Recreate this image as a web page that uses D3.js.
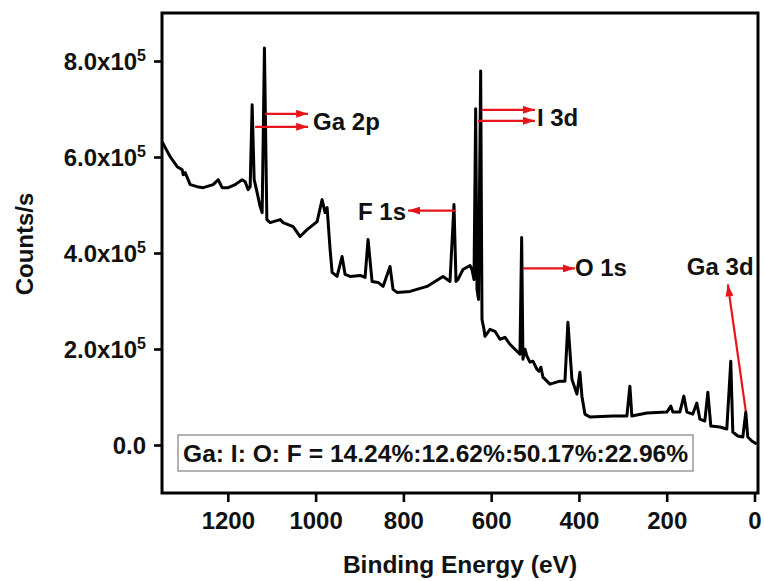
<!DOCTYPE html>
<html>
<head>
<meta charset="utf-8">
<script src="https://cdn.jsdelivr.net/npm/d3@7"></script>
<style>
  html, body { margin: 0; padding: 0; background: #fff; }
  svg text { font-family: "Liberation Sans", Arial, sans-serif; font-weight: bold; fill: #111; }
</style>
</head>
<body>
<svg id="chart" width="764" height="581"></svg>
<script>
// XPS survey spectrum: binding energy (eV) and intensity (counts/s, in thousands)
const bindingEnergy = [
  1350, 1331.3, 1315.4, 1304.0, 1301.7, 1297.2, 1285.8, 1269.8, 1256.2, 1233.4,
  1222.0, 1212.9, 1199.2, 1183.3, 1167.4, 1160.5, 1153.7, 1149.1, 1144.6, 1140.0,
  1133.2, 1126.4, 1121.8, 1116.6, 1111.1, 1103.6, 1080.8, 1074.0, 1051.2, 1035.3,
  1019.4, 996.6, 985.2, 978.4, 973.8, 967.0, 962.4, 951.1, 939.7, 932.8,
  921.5, 898.7, 887.3, 880.5, 871.4, 857.7, 846.3, 830.4, 823.6, 814.4,
  784.8, 746.1, 709.7, 693.8, 684.7, 680.1, 675.6, 664.2, 648.2, 643.7,
  639.1, 635.3, 632.3, 628.9, 623.9, 620.9, 616.4, 614.1, 602.7, 591.3,
  579.9, 568.5, 557.2, 545.8, 538.9, 534.4, 530.5, 527.6, 523.0, 518.4,
  511.6, 504.8, 495.7, 491.1, 486.6, 482.0, 466.1, 443.3, 431.9, 425.1,
  416.0, 404.6, 397.8, 393.2, 386.4, 375.0, 322.6, 290.8, 283.9, 279.4,
  245.2, 199.7, 190.6, 186.0, 170.1, 161.0, 154.1, 140.5, 131.4, 124.5,
  113.2, 106.3, 99.5, 79.0, 63.1, 54.0, 49.4, 38.0, 26.6, 19.8,
  15.3, 6.1, -5.2
];
const countsK = [
  632, 600.5, 579.8, 573.5, 563.1, 567.3, 542.4, 538.2, 536.1, 542.4,
  552.7, 536.1, 536.1, 542.4, 552.7, 548.6, 532.0, 538.2, 708.6, 552.7,
  525.7, 496.6, 484.2, 827.0, 469.6, 463.4, 469.6, 463.4, 455.1, 434.3,
  448.8, 465.5, 511.2, 484.2, 494.6, 407.3, 359.5, 351.2, 392.7, 355.3,
  351.2, 353.3, 349.1, 428.1, 340.8, 338.7, 330.4, 372.0, 324.2, 317.9,
  320.0, 330.4, 351.2, 340.8, 500.8, 340.8, 344.9, 365.7, 374.0, 365.7,
  344.9, 700.3, 324.2, 303.4, 779.3, 261.8, 241.0, 226.5, 241.0, 236.9,
  220.3, 224.4, 209.9, 199.5, 193.3, 189.1, 432.2, 178.7, 199.5, 184.9,
  172.5, 174.6, 157.9, 153.8, 162.1, 141.3, 126.8, 133.0, 133.0, 255.6,
  137.1, 106.0, 151.7, 101.8, 64.4, 58.2, 60.3, 60.3, 122.6, 60.3,
  66.5, 68.6, 81.0, 68.6, 68.6, 101.8, 68.6, 64.4, 87.3, 54.0,
  49.9, 110.1, 39.5, 37.4, 33.2, 174.6, 27.0, 18.7, 16.6, 68.6,
  16.6, 8.3, 2.1
];

// Axis ticks
const xMajorTicks = [1200, 1000, 800, 600, 400, 200, 0];
const xMinorTicks = [1300, 1100, 900, 700, 500, 300, 100];
const yMajorTicks = [0, 2e5, 4e5, 6e5, 8e5];
const yMinorTicks = [1e5, 3e5, 5e5, 7e5];

// Peak annotations: label, arrow start (BE, counts k), arrow end (BE, counts k)
const peakArrows = [
  { label: "Ga 2p", from: [1115.0, 690.0], to: [1017.1, 690.0] },
  { label: "Ga 2p", from: [1137.8, 662.9], to: [1017.1, 662.9] },
  { label: "I 3d",  from: [620.9, 698.2],  to: [500.2, 698.2] },
  { label: "I 3d",  from: [630.0, 675.4],  to: [500.2, 675.4] },
  { label: "F 1s",  from: [682.4, 488.3],  to: [789.4, 488.3] },
  { label: "O 1s",  from: [527.6, 367.8],  to: [409.2, 367.8] },
  { label: "Ga 3d", from: [19.8, 70.7],    to: [60.8, 334.6] }
];
const peakLabels = [
  { text: "Ga 2p", at: [1005.7, 656.6], anchor: "start" },
  { text: "I 3d",  at: [495.7, 665.0],  anchor: "start" },
  { text: "F 1s",  at: [794.0, 469.6],  anchor: "end" },
  { text: "O 1s",  at: [409.2, 351.2],  anchor: "start" },
  { text: "Ga 3d", at: [154.1, 353.3],  anchor: "start" }
];
const ratioText = "Ga: I: O: F = 14.24%:12.62%:50.17%:22.96%";

const width = 764, height = 581;
const margin = { top: 13, right: 6, bottom: 88, left: 162 };
const svg = d3.select("#chart");

const x = d3.scaleLinear().domain([1350, -8]).range([margin.left, width - margin.right]);
const y = d3.scaleLinear().domain([-1e5, 9e5]).range([height - margin.bottom, margin.top]);

const points = bindingEnergy.map((be, i) => [be, countsK[i] * 1000]);

// Arrow marker
const defs = svg.append("defs");
defs.append("marker")
  .attr("id", "arrowhead")
  .attr("viewBox", "0 0 12 8")
  .attr("refX", 12).attr("refY", 4)
  .attr("markerWidth", 12).attr("markerHeight", 8)
  .attr("markerUnits", "userSpaceOnUse")
  .attr("orient", "auto")
  .append("path")
  .attr("d", "M0,0 L12,4 L0,8 Z")
  .attr("fill", "#e8141b");

// Spectrum trace
svg.append("path")
  .datum(points)
  .attr("fill", "none")
  .attr("stroke", "#000")
  .attr("stroke-width", 3)
  .attr("stroke-linejoin", "round")
  .attr("d", d3.line().x(d => x(d[0])).y(d => y(d[1])));

// Annotation arrows
svg.append("g").selectAll("line")
  .data(peakArrows)
  .join("line")
  .attr("x1", d => x(d.from[0])).attr("y1", d => y(d.from[1] * 1000))
  .attr("x2", d => x(d.to[0])).attr("y2", d => y(d.to[1] * 1000))
  .attr("stroke", "#e8141b")
  .attr("stroke-width", 2.2)
  .attr("marker-end", "url(#arrowhead)");

svg.append("g").selectAll("text")
  .data(peakLabels)
  .join("text")
  .attr("x", d => x(d.at[0])).attr("y", d => y(d.at[1] * 1000))
  .attr("text-anchor", d => d.anchor)
  .attr("font-size", 24)
  .text(d => d.text);

// Composition box
const box = svg.append("g");
box.append("rect")
  .attr("x", 178).attr("y", 435).attr("width", 515).attr("height", 36)
  .attr("fill", "#fff").attr("stroke", "#8a8a8a").attr("stroke-width", 1.3);
box.append("text")
  .attr("x", 183).attr("y", 462)
  .attr("font-size", 24.6)
  .text(ratioText);

// Frame
svg.append("rect")
  .attr("x", margin.left).attr("y", margin.top)
  .attr("width", width - margin.right - margin.left)
  .attr("height", height - margin.bottom - margin.top)
  .attr("fill", "none").attr("stroke", "#000").attr("stroke-width", 3);

// X axis
const xAxis = svg.append("g").attr("transform", `translate(0,${height - margin.bottom})`);
xAxis.call(d3.axisBottom(x).tickValues(xMinorTicks).tickSize(5).tickFormat(""));
xAxis.call(d3.axisBottom(x).tickValues(xMajorTicks).tickSize(9).tickPadding(10).tickFormat(d3.format("d")));
xAxis.selectAll(".domain").remove();
xAxis.selectAll("line").attr("stroke", "#000").attr("stroke-width", 2.6);
xAxis.selectAll("text").attr("font-size", 24).attr("fill", "#111")
  .style("font-family", '"Liberation Sans", Arial, sans-serif').style("font-weight", "bold");

// Y axis
const yAxis = svg.append("g").attr("transform", `translate(${margin.left},0)`);
yAxis.call(d3.axisLeft(y).tickValues(yMinorTicks).tickSize(4).tickFormat(""));
yAxis.call(d3.axisLeft(y).tickValues(yMajorTicks).tickSize(8).tickPadding(8).tickFormat(""));
yAxis.selectAll(".domain").remove();
yAxis.selectAll("line").attr("stroke", "#000").attr("stroke-width", 2.6);

// Y tick labels in a.bx10^n form
const yLabels = svg.append("g");
yMajorTicks.forEach(v => {
  const t = yLabels.append("text")
    .attr("x", margin.left - 16)
    .attr("y", y(v) + 8.5)
    .attr("text-anchor", "end")
    .attr("font-size", 24);
  if (v === 0) {
    t.text("0.0");
  } else {
    const exp = Math.floor(Math.log10(v));
    const mant = (v / Math.pow(10, exp)).toFixed(1);
    t.append("tspan").text(mant + "x10");
    t.append("tspan").attr("font-size", 16).attr("dy", -9).text(exp);
  }
});

// Axis titles
svg.append("text")
  .attr("x", (margin.left + width - margin.right) / 2)
  .attr("y", 573)
  .attr("text-anchor", "middle")
  .attr("font-size", 24.5)
  .text("Binding Energy (eV)");

svg.append("text")
  .attr("transform", "translate(33,244) rotate(-90)")
  .attr("text-anchor", "middle")
  .attr("font-size", 24)
  .text("Counts/s");
</script>
</body>
</html>
